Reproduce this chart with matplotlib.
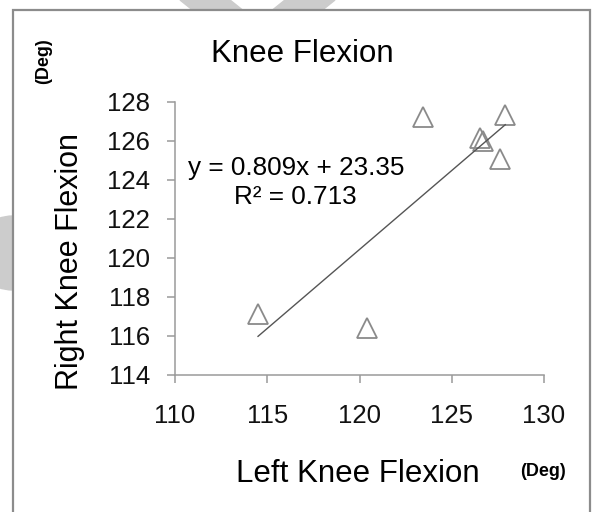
import matplotlib
matplotlib.use("Agg")
import matplotlib.pyplot as plt
import numpy as np
from matplotlib.patches import Rectangle, Ellipse, Polygon

# data
left_knee = [114.5, 120.4, 123.45, 127.9, 126.55, 126.7, 127.6]
right_knee = [117.1, 116.4, 127.2, 127.3, 126.15, 126.0, 125.05]
slope = 0.809
intercept = 23.35
r_squared = 0.713
x_ticks = [110, 115, 120, 125, 130]
y_ticks = [114, 116, 118, 120, 122, 124, 126, 128]

plt.rcParams['font.family'] = ['Liberation Sans', 'DejaVu Sans']

W, H = 594, 512
fig = plt.figure(figsize=(W / 100, H / 100), dpi=100)


def fx(px):
    return px / W


def fy(py):
    return 1 - py / H


# faint watermark bits peeking out round the frame
fig.add_artist(Ellipse((fx(13), fy(253)), 80 / W, 74 / H, transform=fig.transFigure,
                       color='#cccccc', zorder=-3))
fig.add_artist(Polygon([(fx(180), fy(0)), (fx(230), fy(0)), (fx(245), fy(12)), (fx(195), fy(12))],
                       transform=fig.transFigure, color='#cccccc', zorder=-3))
fig.add_artist(Polygon([(fx(285), fy(0)), (fx(335), fy(0)), (fx(320), fy(12)), (fx(270), fy(12))],
                       transform=fig.transFigure, color='#cccccc', zorder=-3))

# chart frame (bottom edge falls outside the picture)
fig.add_artist(Rectangle((fx(13), -0.1), fx(590) - fx(13), fy(10) + 0.1,
                         transform=fig.transFigure, facecolor='white',
                         edgecolor='#8c8c8c', lw=1.6, zorder=-2))

ax = fig.add_axes([fx(175), fy(375), fx(544) - fx(175), fy(101.7) - fy(375)])
ax.patch.set_alpha(0)
ax.set_xlim(110, 130)
ax.set_ylim(114, 128)
ax.set_xticks(x_ticks)
ax.set_yticks(y_ticks)
for side in ['top', 'right']:
    ax.spines[side].set_visible(False)
for side in ['left', 'bottom']:
    ax.spines[side].set_color('#9a9a9a')
    ax.spines[side].set_linewidth(1.1)
ax.tick_params(direction='out', length=6, width=1.1, color='#9a9a9a',
               labelsize=18.5, labelcolor='#111111')
ax.tick_params(axis='x', pad=15)
ax.tick_params(axis='y', pad=12)

ax.plot(left_knee, right_knee, linestyle='none', marker='^', ms=14,
        mfc='none', mec='#8a8a8a', mew=1.3, clip_on=False)

fit_x = np.array([min(left_knee), max(left_knee)])
ax.plot(fit_x, slope * fit_x + intercept, color='#555555', lw=1.0)

fig.text(fx(302.5), fy(61.7), 'Knee Flexion', ha='center', va='baseline', fontsize=22.5)
fig.text(fx(358.3), fy(481.7), 'Left Knee Flexion', ha='center', va='baseline', fontsize=22.5)
fig.text(fx(78), fy(261), 'Right Knee Flexion', rotation=90, rotation_mode='anchor',
         ha='center', va='baseline', fontsize=22)
fig.text(fx(543), fy(471), '(Deg)', ha='center', va='center', fontsize=13, weight='bold')
fig.text(fx(44), fy(61.5), '(Deg)', rotation=90, ha='center', va='center',
         fontsize=13, weight='bold')

fig.text(fx(296), fy(175), f'y = {slope}x + {intercept}', ha='center', va='baseline', fontsize=18.8)
fig.text(fx(295.5), fy(204), f'R² = {r_squared}', ha='center', va='baseline', fontsize=18.8)

fig.savefig('out.png', dpi=100)
